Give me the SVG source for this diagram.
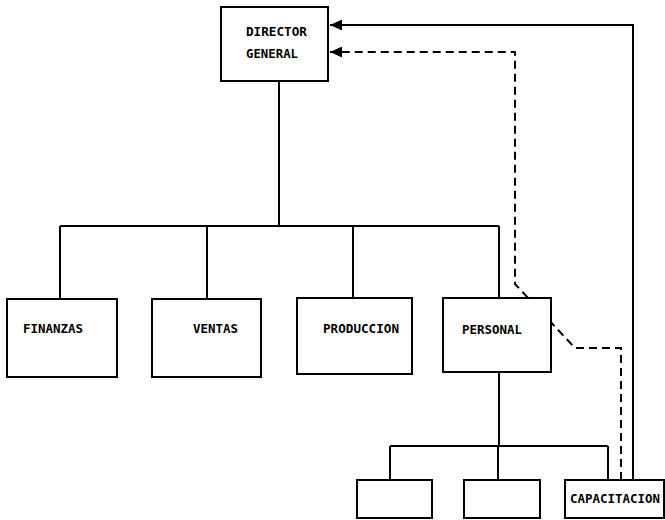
<svg xmlns="http://www.w3.org/2000/svg" width="665" height="520" viewBox="0 0 665 520">
<style>
.box{fill:#fff;stroke:#000;stroke-width:2}
.lbl{font-family:"DejaVu Sans Mono","Liberation Mono",monospace;font-size:13px;font-weight:bold;fill:#000}
.ln{fill:none;stroke:#000;stroke-width:2}
.dash{fill:none;stroke:#000;stroke-width:2;stroke-dasharray:8 5}
</style>
<defs>
<marker id="ah" markerUnits="userSpaceOnUse" markerWidth="13" markerHeight="11" refX="12" refY="5.5" orient="auto">
<path d="M0,0 L12,5.5 L0,11 Z" fill="#000"/>
</marker>
</defs>
<rect width="665" height="520" fill="#fff"/>
<g id="connectors">
<path class="ln" d="M279,81 V226 M60,226 H499 M60,226 V299 M207,226 V299 M353,226 V298 M499,226 V298"/>
<path class="ln" d="M499,372 V446 M390,446 H608 M390,446 V480 M498,446 V480 M608,446 V480"/>
<path class="ln" d="M633,480 V25 H330" marker-end="url(#ah)"/>
<path class="dash" d="M621,480 V348 H575 L515,284 V52 H330" marker-end="url(#ah)"/>
</g>
<g id="director">
<rect class="box" x="221" y="7" width="107" height="74"/>
<text class="lbl" x="246" y="36" textLength="61" lengthAdjust="spacingAndGlyphs">DIRECTOR</text>
<text class="lbl" x="246" y="58" textLength="52" lengthAdjust="spacingAndGlyphs">GENERAL</text>
</g>
<g id="finanzas">
<rect class="box" x="7" y="299" width="110" height="78"/>
<text class="lbl" x="23" y="333" textLength="60" lengthAdjust="spacingAndGlyphs">FINANZAS</text>
</g>
<g id="ventas">
<rect class="box" x="152" y="299" width="109" height="78"/>
<text class="lbl" x="193" y="333" textLength="45" lengthAdjust="spacingAndGlyphs">VENTAS</text>
</g>
<g id="produccion">
<rect class="box" x="297" y="298" width="115" height="76"/>
<text class="lbl" x="323" y="333" textLength="76" lengthAdjust="spacingAndGlyphs">PRODUCCION</text>
</g>
<g id="personal">
<rect class="box" x="443" y="298" width="108" height="74"/>
<text class="lbl" x="462" y="334" textLength="60" lengthAdjust="spacingAndGlyphs">PERSONAL</text>
</g>
<g id="sub1">
<rect class="box" x="357" y="480" width="75" height="38"/>
</g>
<g id="sub2">
<rect class="box" x="464" y="480" width="76" height="38"/>
</g>
<g id="capacitacion">
<rect class="box" x="565" y="480" width="99" height="38"/>
<text class="lbl" x="570" y="503" textLength="90" lengthAdjust="spacingAndGlyphs">CAPACITACION</text>
</g>
</svg>
